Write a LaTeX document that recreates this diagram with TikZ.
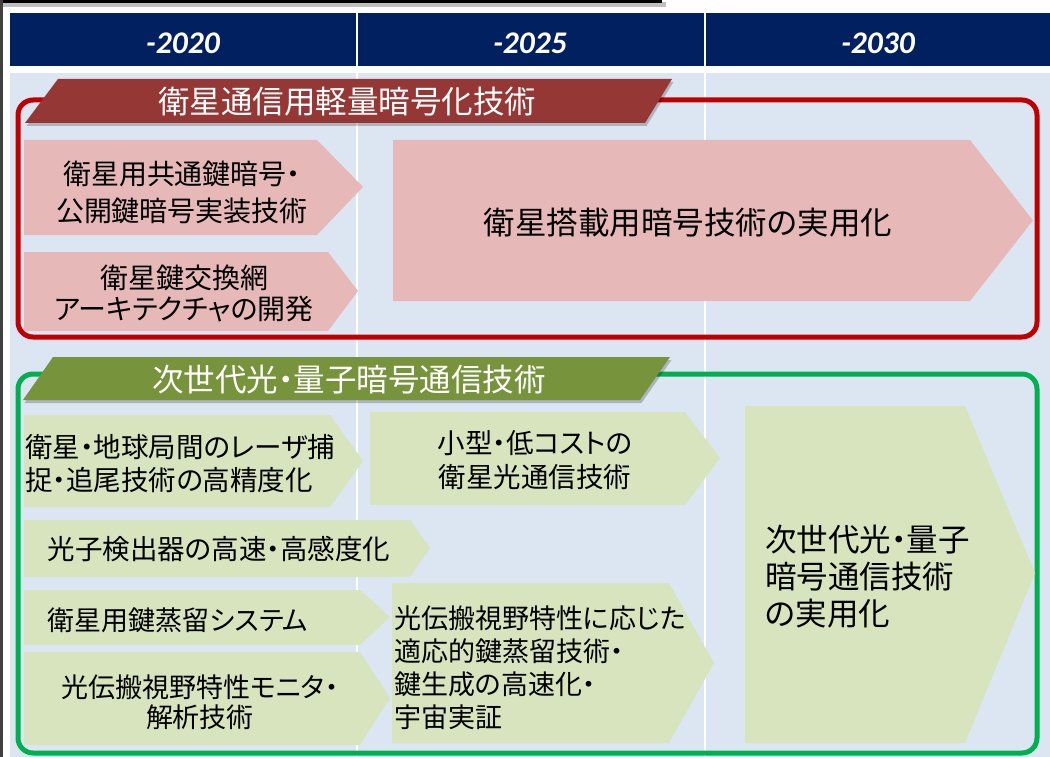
\documentclass[tikz,border=0pt]{standalone}
\usepackage{fontspec}
\newfontfamily\jp{Noto Sans CJK JP}[RawFeature=+palt]
\newfontfamily\hdr{Carlito}
\usetikzlibrary{shadows}
\definecolor{navy}{RGB}{0,32,96}
\definecolor{bodyblue}{RGB}{220,230,242}
\definecolor{pinkfill}{RGB}{230,185,184}
\definecolor{greenfill}{RGB}{215,228,189}
\definecolor{redban}{RGB}{149,55,53}
\definecolor{greenban}{RGB}{119,147,60}
\definecolor{redline}{RGB}{192,0,0}
\definecolor{greenline}{RGB}{0,176,80}
\tikzset{
  every node/.style={inner sep=0pt},
  hdrtext/.style={font=\hdr\bfseries\itshape\fontsize{31.5}{31.5}\selectfont, text=white},
  bantext/.style={font=\jp\fontsize{31.5}{36}\selectfont, text=white},
  pinkarrow/.style={fill=pinkfill},
  greenarrow/.style={fill=greenfill},
  banshadow/.style={drop shadow={shadow xshift=1.5pt, shadow yshift=-3pt, opacity=.22, fill=black}},
  groupbox/.style={line width=5pt, rounded corners=15pt},
  divider/.style={white, line width=2.2pt},
}
\begin{document}
\begin{tikzpicture}[x=1pt,y=-1pt]
\useasboundingbox (0,0) rectangle (1050,757);
\fill[white] (0,0) rectangle (1050,757);
% frame remnants
\fill[black!25] (2,2) rectangle (666,7);
\fill[black] (0,0) rectangle (662,3.5);
\fill[black!75] (0,0) rectangle (3,757);
% header
\fill[navy] (10,13) rectangle (1050,66);
\draw[divider] (357,13) -- (357,66);
\draw[divider] (705,13) -- (705,66);
\node[hdrtext] (h1) at (183,43) {-2020};
\node[hdrtext] (h2) at (530,43) {-2025};
\node[hdrtext] (h3) at (878,43) {-2030};
% body
\fill[bodyblue] (10,73) rectangle (1050,757);
\draw[divider] (357,73) -- (357,757);
\draw[divider] (705,73) -- (705,757);

% ===== red group =====
\draw[groupbox, redline] (18,100) rectangle (1037,337);
\fill[redban, banshadow] (25,123) -- (58,79) -- (672,79) -- (645,123) -- cycle;
\node[bantext] (rt) at (347,102) {衛星通信用軽量暗号化技術};

\fill[pinkarrow] (24,140) -- (317,140) -- (363,187) -- (317,235) -- (24,235) -- cycle;
\node[font=\jp\fontsize{28}{37}\selectfont, align=center] (p1) at (182,192) {衛星用共通鍵暗号・\\公開鍵暗号実装技術};

\fill[pinkarrow] (24,252) -- (328,252) -- (358,291) -- (328,331) -- (24,331) -- cycle;
\node[font=\jp\fontsize{28}{31}\selectfont, align=center] (p2) at (184,293) {衛星鍵交換網\\アーキテクチャの開発};

\fill[pinkarrow] (393,140) -- (970,140) -- (1033,220.5) -- (970,301) -- (393,301) -- cycle;
\node[font=\jp\fontsize{31.5}{36}\selectfont] (p3) at (688,223) {衛星搭載用暗号技術の実用化};

% ===== green group =====
\draw[groupbox, greenline] (18,374) rectangle (1037,753);
\fill[greenban, banshadow] (23,400) -- (53,357) -- (670,357) -- (640,400) -- cycle;
\node[bantext] (gt) at (349,380) {次世代光・量子暗号通信技術};

\fill[greenarrow] (24,415) -- (330,415) -- (363,461) -- (330,507) -- (24,507) -- cycle;
\node[font=\jp\fontsize{27.5}{33}\selectfont, align=left, anchor=west] (g1) at (25,464) {衛星・地球局間のレーザ捕\\捉・追尾技術の高精度化};

\fill[greenarrow] (370,412) -- (685,412) -- (720,458) -- (685,505) -- (370,505) -- cycle;
\node[font=\jp\fontsize{27.5}{34}\selectfont, align=center] (g2) at (535,460) {小型・低コストの\\衛星光通信技術};

\fill[greenarrow] (24,520) -- (410,520) -- (430,548) -- (410,577) -- (24,577) -- cycle;
\node[font=\jp\fontsize{27.5}{33}\selectfont] (g3) at (219,549) {光子検出器の高速・高感度化};

\fill[greenarrow] (24,590) -- (360,590) -- (390,617) -- (360,645) -- (24,645) -- cycle;
\node[font=\jp\fontsize{27}{33}\selectfont] (g4) at (178,620) {衛星用鍵蒸留システム};

\fill[greenarrow] (24,652) -- (360,652) -- (390,698) -- (360,745) -- (24,745) -- cycle;
\node[font=\jp\fontsize{27}{30}\selectfont, align=center] (g5) at (200,702) {光伝搬視野特性モニタ・\\解析技術};

\fill[greenarrow] (392,583) -- (669,583) -- (714,663) -- (669,743) -- (392,743) -- cycle;
\node[font=\jp\fontsize{27}{33}\selectfont, align=left, anchor=west] (g6) at (394,668) {光伝搬視野特性に応じた\\適応的鍵蒸留技術・\\鍵生成の高速化・\\宇宙実証};

\fill[greenarrow] (745,406) -- (965,406) -- (1035,573) -- (965,743) -- (745,743) -- cycle;
\node[font=\jp\fontsize{31.5}{37}\selectfont, align=left, anchor=west] (g7) at (765,577) {次世代光・量子\\暗号通信技術\\の実用化};
\end{tikzpicture}
\end{document}
